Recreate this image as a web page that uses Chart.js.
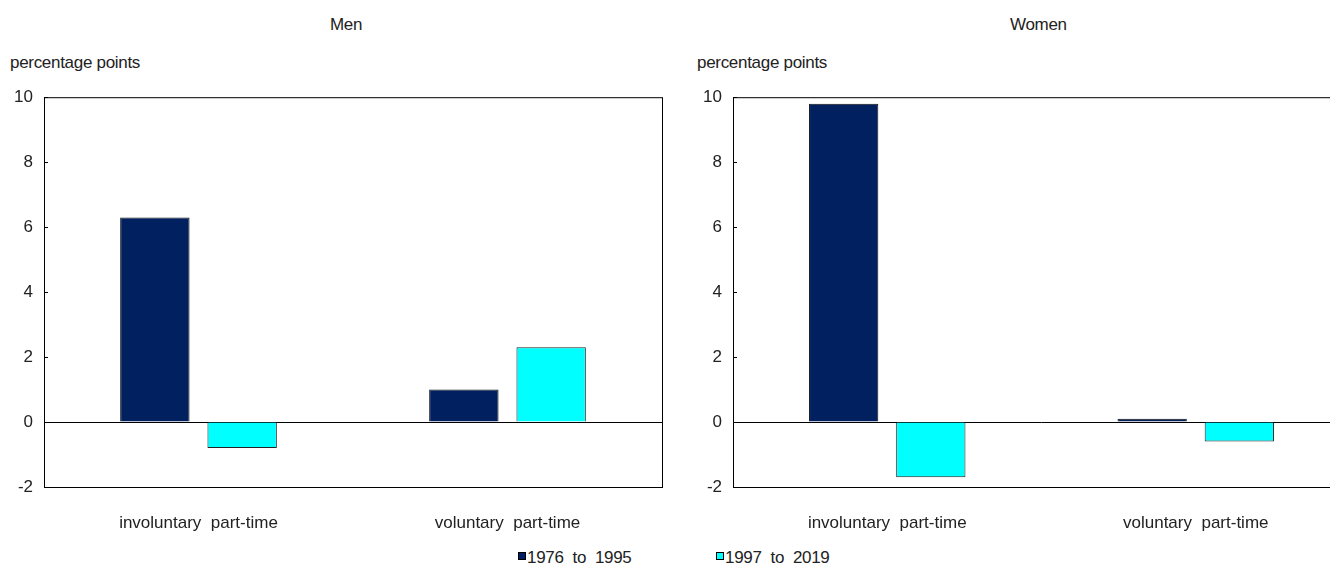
<!DOCTYPE html>
<html>
<head>
<meta charset="utf-8">
<script src="https://cdn.jsdelivr.net/npm/chart.js@4.4.0/dist/chart.umd.min.js"></script>
<style>
  body { margin: 0; width: 1330px; height: 569px; overflow: hidden; background: #fff;
         font-family: "Liberation Sans", Arial, sans-serif; color: #222; }
  .txt { position: absolute; font-size: 17px; white-space: pre; letter-spacing: -0.3px; }
  .sw { display: inline-block; width: 6px; height: 6px; border: 1px solid #000; margin-right: 1px; vertical-align: 3px; }
</style>
</head>
<body>

<div class="txt" style="left:330px; top:15px;">Men</div>
<div class="txt" style="left:10px; top:53px;">percentage points</div>
<div class="txt" style="left:1010px; top:15px;">Women</div>
<div class="txt" style="left:697px; top:53px;">percentage points</div>

<div style="position:absolute; left:0; top:76px; width:680px; height:464px;"><canvas id="men"></canvas></div>
<div style="position:absolute; left:690px; top:76px; width:660px; height:464px;"><canvas id="women"></canvas></div>

<div class="txt" style="left:518px; top:548px;"><span class="sw" style="background:#002060"></span>1976  to  1995</div>
<div class="txt" style="left:716px; top:548px;"><span class="sw" style="background:#00FFFF"></span>1997  to  2019</div>

<script>
// data
const categories = ['involuntary  part-time', 'voluntary  part-time'];
const seriesNames = ['1976 to 1995', '1997 to 2019'];
const menEarly = [6.3, 1.0];
const menLate = [-0.8, 2.3];
const womenEarly = [9.8, 0.1];
const womenLate = [-1.7, -0.6];
const yTicks = [-2, 0, 2, 4, 6, 8, 10];

const navy = '#002060';
const cyan = '#00FFFF';
const tickFont = { family: 'Liberation Sans', size: 17 };

// frame around plot area + little inward ticks on the y axis
const framePlugin = {
  id: 'frame',
  afterDraw(chart) {
    const ctx = chart.ctx;
    const a = chart.chartArea;
    const y = chart.scales.y;
    ctx.save();
    ctx.strokeStyle = '#000';
    ctx.lineWidth = 1;
    ctx.strokeRect(a.left + 0.5, a.top + 0.5, a.right - a.left, a.bottom - a.top);
    ctx.beginPath();
    yTicks.forEach(v => {
      const py = Math.round(y.getPixelForValue(v)) + 0.5;
      ctx.moveTo(a.left, py);
      ctx.lineTo(a.left + 4, py);
    });
    ctx.stroke();
    ctx.restore();
  }
};

function makeChart(id, early, late, yWidth, rightPad) {
  return new Chart(document.getElementById(id), {
    type: 'bar',
    data: {
      labels: categories,
      datasets: [{
        label: seriesNames[0],
        data: early,
        backgroundColor: navy,
        borderColor: '#111',
        borderWidth: 1
      }, {
        label: seriesNames[1],
        data: late,
        backgroundColor: cyan,
        borderColor: '#222',
        borderWidth: 1
      }]
    },
    options: {
      responsive: true,
      maintainAspectRatio: false,
      animation: false,
      layout: { padding: { top: 17, right: rightPad, left: 0, bottom: 0 } },
      plugins: { legend: { display: false }, tooltip: { enabled: false } },
      datasets: { bar: { barPercentage: 0.795, categoryPercentage: 0.565 } },
      scales: {
        x: {
          grid: { display: false, drawTicks: false },
          border: { display: false },
          ticks: { color: '#222', padding: 26, font: tickFont },
          afterFit(scale) { scale.height = 53; }
        },
        y: {
          min: -2,
          max: 10,
          afterBuildTicks(scale) { scale.ticks = yTicks.map(v => ({ value: v })); },
          grid: {
            drawTicks: false,
            color: ctx => (ctx.tick && ctx.tick.value === 0) ? '#000' : 'rgba(0,0,0,0)'
          },
          border: { display: false },
          ticks: { color: '#222', padding: 11, font: tickFont },
          afterFit(scale) { scale.width = yWidth; }
        }
      }
    },
    plugins: [framePlugin]
  });
}

makeChart('men', menEarly, menLate, 44, 18);
makeChart('women', womenEarly, womenLate, 43, 0);
</script>
</body>
</html>
